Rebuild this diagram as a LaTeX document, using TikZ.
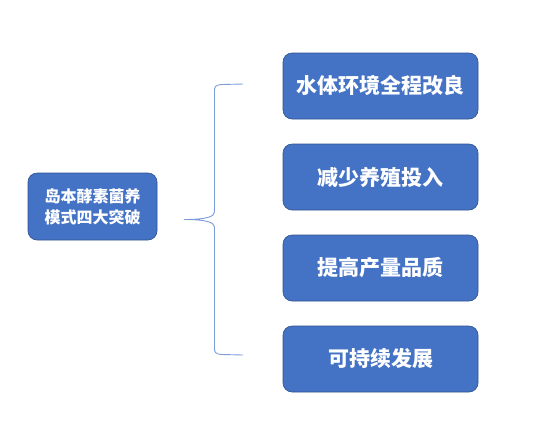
\documentclass[tikz,border=0pt]{standalone}
\usepackage{fontspec}
\newfontfamily\cjk{Noto Sans CJK SC}
\usepackage{tikz}

\definecolor{boxblue}{HTML}{4472C4}
\definecolor{boxedge}{HTML}{2F528F}
\definecolor{bracecol}{HTML}{7C9BDB}

\begin{document}
\begin{tikzpicture}[x=1pt, y=-1pt, every node/.style={font=\cjk\bfseries, text=white},
    topic/.style={rectangle, rounded corners=9pt, fill=boxblue, draw=boxedge, line width=0.6pt,
        minimum width=129pt, minimum height=67pt, align=center, font=\cjk\bfseries\fontsize{16}{21}\selectfont},
    item/.style={rectangle, rounded corners=9pt, fill=boxblue, draw=boxedge, line width=0.6pt,
        minimum width=195pt, minimum height=66pt, font=\cjk\bfseries\fontsize{21}{24}\selectfont}]
    \useasboundingbox (0,0) rectangle (540,421);

    % main topic
    \node[topic] (main) at (92.5,206.5) {岛本酵素菌养\\模式四大突破};

    % items
    \node[item] (i1) at (380.5,86) {水体环境全程改良};
    \node[item] (i2) at (380.5,177) {减少养殖投入};
    \node[item] (i3) at (380.5,268) {提高产量品质};
    \node[item] (i4) at (380.5,359) {可持续发展};

    % brace
    \coordinate (tip) at (184,219.5);
    \coordinate (btop) at (243,84);
    \coordinate (bbot) at (243,355);
    \draw[bracecol, line width=0.9pt]
        (btop) -- (222,84.5) .. controls (215,85) and (214.5,87) .. (214.5,91)
        -- (214.5,212) .. controls (214.5,217) and (205,219.5) .. (tip)
        .. controls (205,219.5) and (214.5,222) .. (214.5,227)
        -- (214.5,348) .. controls (214.5,352) and (215,354) .. (222,354.5) -- (bbot);
\end{tikzpicture}
\end{document}
